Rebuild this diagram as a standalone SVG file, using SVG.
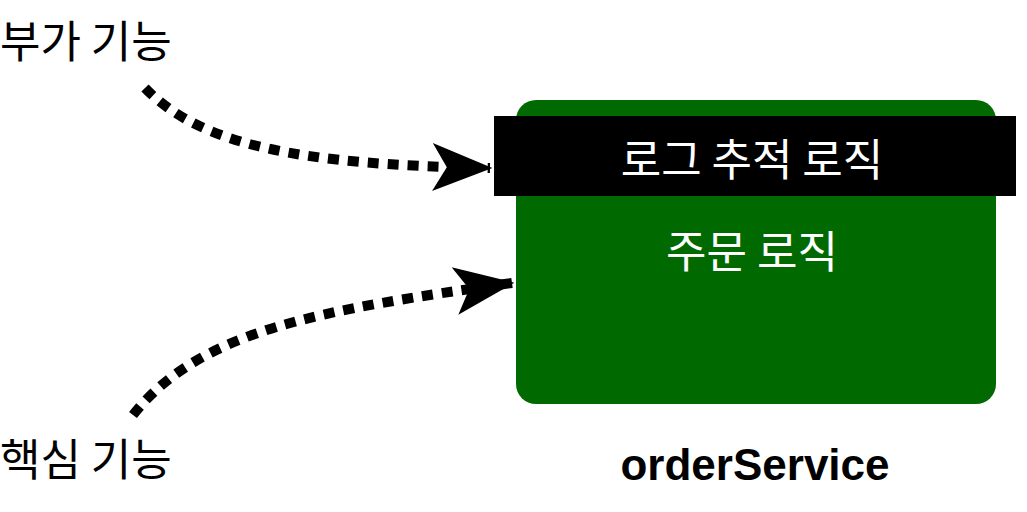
<svg xmlns="http://www.w3.org/2000/svg" width="1027" height="512" viewBox="0 0 1027 512">
<style>
.t{font-family:"Noto Sans CJK KR","Noto Sans",sans-serif;font-size:44px}
.c{fill:none;stroke:#000;stroke-width:10;stroke-dasharray:11 9}
</style>
<defs>
<marker id="a" markerUnits="userSpaceOnUse" markerWidth="60" markerHeight="60" refX="48" refY="20" orient="auto" viewBox="0 0 50 40">
<path d="M0,0 L50,20 L0,40 L12,20 Z" fill="#000"/>
</marker>
</defs>
<rect width="1027" height="512" fill="#fff"/>
<g id="orderService">
<rect x="516" y="100" width="480" height="304" rx="20" fill="#006a00"/>
<text x="755" y="480" text-anchor="middle" font-family="Liberation Sans,Arial,sans-serif" font-weight="bold" font-size="44">orderService</text>
</g>
<g id="log">
<rect x="494" y="116" width="522" height="80" fill="#000"/>
<text class="t" x="752" y="176" text-anchor="middle" fill="#fff">로그 추적 로직</text>
</g>
<g id="order">
<text class="t" x="752" y="268" text-anchor="middle" fill="#fff">주문 로직</text>
</g>
<g id="labels">
<text class="t" x="0" y="58" fill="#000">부가 기능</text>
<text class="t" x="0" y="476" fill="#000">핵심 기능</text>
</g>
<g id="connectors">
<path class="c" d="M145,88 C200,145 300,165 490,168" marker-end="url(#a)"/>
<path class="c" d="M133,415 C200,330 320,310 512,283" marker-end="url(#a)"/>
</g>
</svg>
